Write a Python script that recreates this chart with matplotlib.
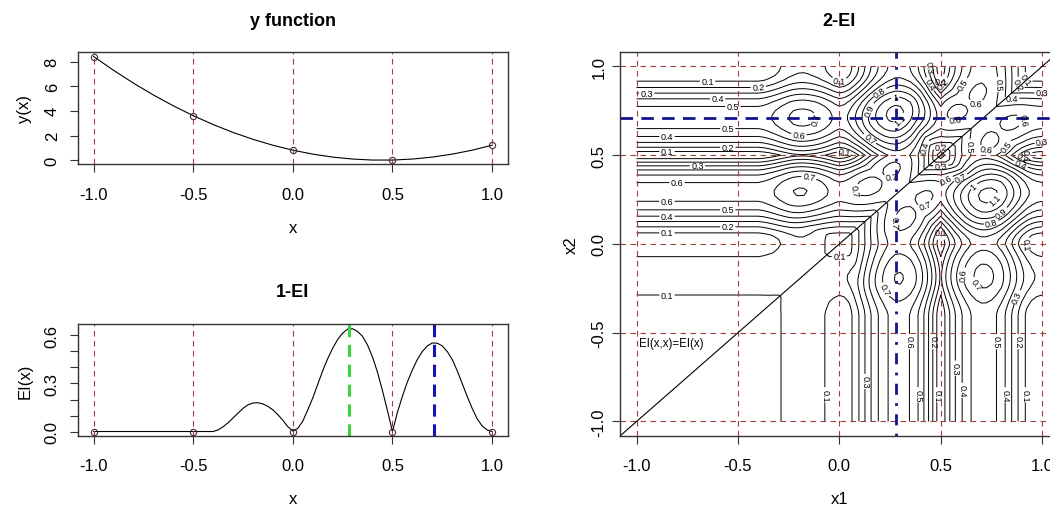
import numpy as np
import matplotlib.pyplot as plt
from matplotlib.ticker import FixedLocator, FixedFormatter

plt.rcParams['font.family'] = ['Liberation Sans', 'DejaVu Sans']

# design points
X_DESIGN = [-1.0, -0.5, 0.0, 0.5, 1.0]
Y_DESIGN = [8.4, 3.6, 0.8, 0.0, 1.2]
EI_DESIGN = [0.0, 0.0, 0.0, 0.0, 0.0]

# y(x) read every 0.1
Y_CURVE_X = [-1.0, -0.9, -0.8, -0.7, -0.6, -0.5, -0.4, -0.3, -0.2, -0.1, 0.0,
             0.1, 0.2, 0.3, 0.4, 0.5, 0.6, 0.7, 0.8, 0.9, 1.0]
Y_CURVE = [8.41, 7.29, 6.25, 5.29, 4.41, 3.61, 2.89, 2.25, 1.69, 1.21, 0.81,
           0.49, 0.25, 0.09, 0.01, 0.01, 0.09, 0.25, 0.49, 0.81, 1.21]

# 1-EI read every 0.025 from -1 to 1
EI_X = np.round(np.linspace(-1.0, 1.0, 81), 3)
EI_CURVE = [0] * 24 + [
    0.0, 0.01, 0.03, 0.055, 0.085, 0.115, 0.145, 0.167,          # -0.400 .. -0.225
    0.178, 0.18, 0.172, 0.157, 0.135, 0.105, 0.07, 0.03,         # -0.200 .. -0.025
    0.003, 0.02, 0.065, 0.135, 0.21, 0.295, 0.38, 0.455,         #  0.000 ..  0.175
    0.52, 0.575, 0.615, 0.64, 0.642, 0.625, 0.595, 0.54,         #  0.200 ..  0.375
    0.465, 0.37, 0.255, 0.13, 0.0, 0.12, 0.22, 0.31,             #  0.400 ..  0.575
    0.385, 0.45, 0.50, 0.535, 0.553, 0.552, 0.535, 0.50,         #  0.600 ..  0.775
    0.45, 0.38, 0.30, 0.22, 0.145, 0.08, 0.035, 0.01, 0.0]       #  0.800 ..  1.000

X_1EI_BEST = 0.28
X1_2EI_BEST = 0.28
X2_2EI_BEST = 0.71

# how quickly two candidate points stop sharing improvement
OVERLAP_LEN = 0.3

GRID_TICKS = [-1.0, -0.5, 0.0, 0.5, 1.0]
TICK_TEXT = ['-1.0', '-0.5', '0.0', '0.5', '1.0']
RED = '#a0403c'
BOX = '#333333'

fig = plt.figure(figsize=(10.5, 5.06), dpi=100)
ax1 = fig.add_axes([0.074, 0.6733, 0.4098, 0.2213])
ax2 = fig.add_axes([0.074, 0.137, 0.4098, 0.2208])
ax3 = fig.add_axes([0.5908, 0.137, 0.4171, 0.7577])


def r_style(ax, ypad=7):
    for s in ax.spines.values():
        s.set_color(BOX)
        s.set_linewidth(1.0)
    ax.tick_params(direction='out', length=6, width=0.8, labelsize=12,
                   color=BOX)
    ax.tick_params(axis='x', pad=10)
    ax.tick_params(axis='y', pad=ypad)
    for lab in ax.get_yticklabels():
        lab.set_rotation(90)
        lab.set_va('center')


# top: y function
ax1.plot(Y_CURVE_X, Y_CURVE, color='black', lw=0.8)
ax1.plot(X_DESIGN, Y_DESIGN, 'o', ms=4.5, mfc='none', mec='#333333', mew=0.8)
for g in GRID_TICKS:
    ax1.axvline(g, color=RED, lw=0.8, ls=(0, (5, 4)))
ax1.set_xlim(-1.08, 1.08)
ax1.set_ylim(-0.336, 8.75)
ax1.set_xticks(GRID_TICKS)
ax1.set_xticklabels(TICK_TEXT)
ax1.set_yticks([0, 2, 4, 6, 8])
ax1.set_xlabel('x', fontsize=12, labelpad=13)
ax1.set_ylabel('y(x)', fontsize=12, labelpad=9)
ax1.set_title('y function', fontsize=13, fontweight='bold', pad=20)
r_style(ax1)

# bottom: 1-EI
ax2.plot(EI_X, EI_CURVE, color='black', lw=0.8)
ax2.plot(X_DESIGN, EI_DESIGN, 'o', ms=4.5, mfc='none', mec='#333333', mew=0.8)
for g in GRID_TICKS:
    ax2.axvline(g, color=RED, lw=0.8, ls=(0, (5, 4)))
ax2.axvline(X_1EI_BEST, color='#3fd23f', lw=2.2, ls=(0, (4, 2.5)))
ax2.axvline(X2_2EI_BEST, color='#1414b4', lw=2.2, ls=(0, (4, 2.5)))
ax2.set_xlim(-1.08, 1.08)
ax2.set_ylim(-0.026, 0.672)
ax2.set_xticks(GRID_TICKS)
ax2.set_xticklabels(TICK_TEXT)
ax2.yaxis.set_major_locator(FixedLocator([0.0, 0.1, 0.2, 0.3, 0.4, 0.5, 0.6]))
ax2.yaxis.set_major_formatter(FixedFormatter(['0.0', '', '', '0.3', '', '', '0.6']))
ax2.set_xlabel('x', fontsize=12, labelpad=13)
ax2.set_ylabel('EI(x)', fontsize=12, labelpad=9)
ax2.set_title('1-EI', fontsize=13, fontweight='bold', pad=20)
r_style(ax2)

# right: 2-EI contours
xs = np.array(EI_X)
e = np.array(EI_CURVE)
dist = np.abs(xs[:, None] - xs[None, :])
shared = np.minimum(e[:, None], e[None, :]) * np.exp(-(dist / OVERLAP_LEN) ** 2)
ei2 = e[:, None] + e[None, :] - shared

levels = np.round(np.arange(0.1, 1.15, 0.1), 1)
cs = ax3.contour(xs, xs, ei2, levels=levels, colors='black', linewidths=0.7)
ax3.clabel(cs, fmt='%g', fontsize=6.5, inline=True, inline_spacing=2)
for g in GRID_TICKS:
    ax3.axvline(g, color=RED, lw=0.8, ls=(0, (5, 4)))
    ax3.axhline(g, color=RED, lw=0.8, ls=(0, (5, 4)))
ax3.axline((0, 0), slope=1, color='black', lw=0.8)
ax3.axvline(X1_2EI_BEST, color='#14148c', lw=2, ls=(0, (1, 3, 4, 3)))
ax3.axhline(X2_2EI_BEST, color='#14148c', lw=2, ls=(0, (4.5, 3)))
ax3.text(-0.99, -0.56, 'EI(x,x)=EI(x)', fontsize=8.3, va='center', ha='left')
ax3.set_xlim(-1.08, 1.08)
ax3.set_ylim(-1.08, 1.08)
ax3.set_xticks(GRID_TICKS)
ax3.set_xticklabels(TICK_TEXT)
ax3.set_yticks(GRID_TICKS)
ax3.set_yticklabels(TICK_TEXT)
ax3.set_xlabel('x1', fontsize=12, labelpad=13)
ax3.set_ylabel('x2', fontsize=12, labelpad=9)
ax3.set_title('2-EI', fontsize=13, fontweight='bold', pad=20)
r_style(ax3, ypad=4)

fig.savefig('out.png', dpi=100)
